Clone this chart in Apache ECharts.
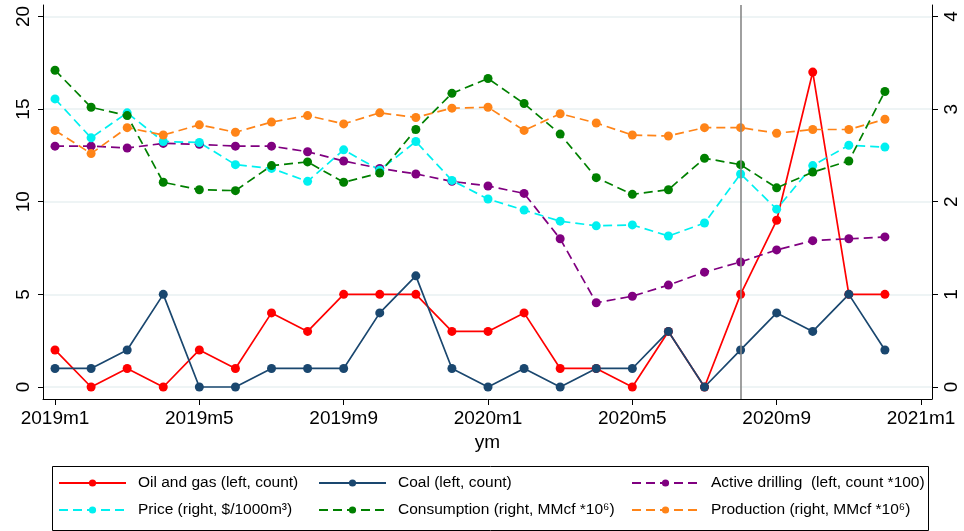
<!DOCTYPE html>
<html>
<head>
<meta charset="utf-8">
<script src="https://cdn.jsdelivr.net/npm/echarts@6/dist/echarts.min.js"></script>
<style>
html,body{margin:0;padding:0;background:#fff;}
#chart{width:964px;height:531px;}
</style>
</head>
<body>
<div id="chart"></div>
<script>
// month index 0 = 2019m1 ... 23 = 2020m12
const tickValues = [0, 4, 8, 12, 16, 20, 24];
const tickLabels = ['2019m1', '2019m5', '2019m9', '2020m1', '2020m5', '2020m9', '2021m1'];
const leftTicks = [0, 5, 10, 15, 20];
const rightTicks = [0, 1, 2, 3, 4];
const eventMonth = 19; // 2020m8

const oilGas = [2, 0, 1, 0, 2, 1, 4, 3, 5, 5, 5, 3, 3, 4, 1, 1, 0, 3, 0, 5, 9, 17, 5, 5];
const coal = [1, 1, 2, 5, 0, 0, 1, 1, 1, 4, 6, 1, 0, 1, 0, 1, 1, 3, 0, 2, 4, 3, 5, 2];
const drilling = [13.0, 13.0, 12.9, 13.15, 13.1, 13.0, 13.0, 12.7, 12.2, 11.8, 11.5, 11.1, 10.85, 10.45, 8.0, 4.55, 4.9, 5.5, 6.2, 6.75, 7.4, 7.9, 8.0, 8.1];
const price = [3.11, 2.69, 2.96, 2.65, 2.64, 2.40, 2.36, 2.22, 2.56, 2.34, 2.65, 2.23, 2.03, 1.91, 1.79, 1.74, 1.75, 1.63, 1.77, 2.30, 1.92, 2.39, 2.61, 2.59];
const consumption = [3.42, 3.02, 2.93, 2.21, 2.13, 2.12, 2.39, 2.43, 2.21, 2.31, 2.78, 3.17, 3.33, 3.06, 2.73, 2.26, 2.08, 2.13, 2.47, 2.40, 2.15, 2.32, 2.44, 3.19];
const production = [2.77, 2.52, 2.80, 2.72, 2.83, 2.75, 2.86, 2.93, 2.84, 2.96, 2.91, 3.01, 3.02, 2.77, 2.95, 2.85, 2.72, 2.71, 2.80, 2.80, 2.74, 2.78, 2.78, 2.89];

const names = [
  'Oil and gas (left, count)',
  'Coal (left, count)',
  'Active drilling  (left, count *100)',
  'Price (right, $/1000m\u00B3)',
  'Consumption (right, MMcf *10\u2076)',
  'Production (right, MMcf *10\u2076)'
];

const FONT = "'Liberation Sans', Arial, Helvetica, sans-serif";
const toXY = arr => arr.map((v, i) => [i, v]);

function mkSeries(name, arr, color, dashed, yIdx) {
  return {
    name: name,
    type: 'line',
    yAxisIndex: yIdx,
    data: toXY(arr),
    symbol: 'circle',
    symbolSize: 9,
    z: 3,
    itemStyle: { color: color },
    lineStyle: { color: color, width: 1.7, type: dashed ? [9, 5] : 'solid' },
    emphasis: { disabled: true },
    animation: false
  };
}

const chart = echarts.init(document.getElementById('chart'), null, { renderer: 'canvas' });

const legendCommon = {
  orient: 'vertical',
  top: 475,
  padding: 0,
  itemWidth: 67,
  itemHeight: 9,
  itemGap: 11,
  selectedMode: false,
  textStyle: { fontFamily: FONT, fontSize: 15.5, color: '#000', lineHeight: 16, padding: [0, 0, 0, 7] }
};

const option = {
  backgroundColor: '#fff',
  animation: false,
  grid: { left: 43, right: 32, top: 5, bottom: 132, containLabel: false },
  xAxis: {
    type: 'value',
    min: -0.333,
    max: 24.305,
    name: 'ym',
    nameLocation: 'middle',
    nameGap: 29,
    nameTextStyle: { fontFamily: FONT, fontSize: 19, color: '#000' },
    axisLine: { show: true, onZero: false, lineStyle: { color: '#000', width: 1 } },
    axisTick: { show: true, length: 6, customValues: tickValues, lineStyle: { color: '#000' } },
    axisLabel: {
      customValues: tickValues,
      margin: 10,
      fontFamily: FONT, fontSize: 19, color: '#000',
      formatter: v => tickLabels[tickValues.indexOf(Math.round(v))] || ''
    },
    splitLine: { show: false }
  },
  yAxis: [
    {
      type: 'value',
      position: 'left',
      min: -0.648,
      max: 20.62,
      axisLine: { show: true, onZero: false, lineStyle: { color: '#000', width: 1 } },
      axisTick: { show: true, length: 5, customValues: leftTicks, lineStyle: { color: '#000' } },
      axisLabel: {
        customValues: leftTicks, rotate: 90, margin: 10,
        fontFamily: FONT, fontSize: 19, color: '#000'
      },
      splitLine: { show: true, lineStyle: { color: '#e8f0f2', width: 1.5 } }
    },
    {
      type: 'value',
      position: 'right',
      min: -0.1296,
      max: 4.124,
      axisLine: { show: true, onZero: false, lineStyle: { color: '#000', width: 1 } },
      axisTick: { show: true, length: 6, customValues: rightTicks, lineStyle: { color: '#000' } },
      axisLabel: {
        customValues: rightTicks, rotate: 90, margin: 10,
        fontFamily: FONT, fontSize: 19, color: '#000'
      },
      splitLine: { show: false }
    }
  ],
  legend: [
    Object.assign({}, legendCommon, { left: 58, data: [names[0], names[3]] }),
    Object.assign({}, legendCommon, { left: 318, data: [names[1], names[4]] }),
    Object.assign({}, legendCommon, { left: 631, data: [names[2], names[5]] })
  ],
  graphic: [
    {
      type: 'rect',
      left: 50, top: 464,
      shape: { width: 876, height: 64 },
      style: { fill: 'none', stroke: '#000', lineWidth: 1 },
      silent: true, z: 0
    }
  ],
  series: [
    {
      name: 'eventLine',
      type: 'line',
      data: [],
      z: 1,
      markLine: {
        silent: true,
        symbol: ['none', 'none'],
        label: { show: false },
        lineStyle: { color: '#888', width: 1.6, type: 'solid' },
        emphasis: { disabled: true },
        data: [{ xAxis: eventMonth }]
      }
    },
    mkSeries(names[0], oilGas, '#ff0000', false, 0),
    mkSeries(names[1], coal, '#1a476f', false, 0),
    mkSeries(names[2], drilling, '#800080', true, 0),
    mkSeries(names[3], price, '#00f0f0', true, 1),
    mkSeries(names[4], consumption, '#008000', true, 1),
    mkSeries(names[5], production, '#ff8418', true, 1)
  ]
};

chart.setOption(option);
</script>
</body>
</html>
